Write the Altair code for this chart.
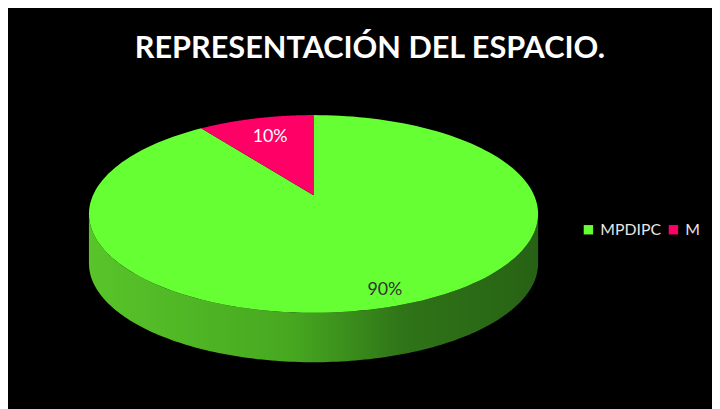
import altair as alt
import numpy as np
import pandas as pd

# ---- data ----
categories = ["MPDIPC", "M"]
values = [90, 10]
label_texts = ["90%", "10%"]
title_text = "REPRESENTACIÓN DEL ESPACIO."

# ---- style ----
colors = ["#66ff33", "#ff0066"]
label_colors = ["#333333", "#ffffff"]
label_radius = [0.88, 0.72]

# perspective view of the disc (page pixels)
CX, CY, G, E, R0, DEPTH = 315.0, 194.0, -59.5, 0.19, 223.0, 50.0
N = 160


def project(u, v):
    d = 1.0 + E * v
    return CX + R0 * u / d, (CY + G * v) / d


total = float(sum(values))
bounds = np.concatenate([[0.0], np.cumsum(values) / total]) * 2 * np.pi

# top face polygons
rows = []
for i, c in enumerate(categories):
    a0, a1 = bounds[i], bounds[i + 1]
    x0, y0 = project(0.0, 0.0)
    rows.append(dict(category=c, step=0, x=x0, y=y0))
    for k in range(N + 1):
        phi = a0 + (a1 - a0) * k / N
        x, y = project(np.sin(phi), np.cos(phi))
        rows.append(dict(category=c, step=k + 1, x=x, y=y))
    rows.append(dict(category=c, step=N + 2, x=x0, y=y0))
top_df = pd.DataFrame(rows)

# visible front wall
f_lo = np.arccos(-E)
f_hi = 2 * np.pi - f_lo
wrows = []
for i, c in enumerate(categories):
    lo, hi = max(bounds[i], f_lo), min(bounds[i + 1], f_hi)
    if lo >= hi:
        continue
    for k in range(N + 1):
        phi = lo + (hi - lo) * k / N
        x, y = project(np.sin(phi), np.cos(phi))
        wrows.append(dict(category=c, x=x, y=y, y2=y + DEPTH))
wall_df = pd.DataFrame(wrows)

# labels
lrows = []
for i, c in enumerate(categories):
    mid = (bounds[i] + bounds[i + 1]) / 2
    r = label_radius[i]
    x, y = project(r * np.sin(mid), r * np.cos(mid))
    lrows.append(dict(category=c, text=label_texts[i], x=x, y=y, col=label_colors[i]))
lab_df = pd.DataFrame(lrows)

title_df = pd.DataFrame([dict(text=title_text, x=372, y=46)])

xs = alt.Scale(domain=[8, 718], nice=False, zero=False)
ys = alt.Scale(domain=[8, 408], nice=False, zero=False, reverse=True)

gradient = alt.Gradient(
    gradient="linear", x1=0, x2=1, y1=0, y2=0,
    stops=[
        alt.GradientStop(offset=0.0, color="#58c42a"),
        alt.GradientStop(offset=0.45, color="#47a820"),
        alt.GradientStop(offset=0.7, color="#2f7418"),
        alt.GradientStop(offset=1.0, color="#276214"),
    ],
)

wall = alt.Chart(wall_df).mark_area(color=gradient).encode(
    x=alt.X("x:Q", scale=xs, axis=None),
    y=alt.Y("y:Q", scale=ys, axis=None),
    y2="y2:Q",
    detail="category:N",
)

top = alt.Chart(top_df).mark_line(filled=True, strokeWidth=0).encode(
    x=alt.X("x:Q", scale=xs, axis=None),
    y=alt.Y("y:Q", scale=ys, axis=None),
    color=alt.Color(
        "category:N",
        scale=alt.Scale(domain=categories, range=colors),
        legend=alt.Legend(
            orient="none", legendX=577, legendY=213, direction="horizontal",
            title=None, symbolType="square", symbolSize=90, symbolStrokeWidth=0,
            labelFontSize=16, labelFont="Lato", labelColor="#e6e6e6",
            columnPadding=4, labelOffset=4,
        ),
    ),
    order="step:Q",
)

labels = alt.Chart(lab_df).mark_text(
    font="Lato", fontSize=18, align="center", baseline="middle"
).encode(
    x=alt.X("x:Q", scale=xs, axis=None),
    y=alt.Y("y:Q", scale=ys, axis=None),
    text="text:N",
    color=alt.Color("col:N", scale=None),
)

title = alt.Chart(title_df).mark_text(
    font="Lato", fontSize=31, fontWeight="bold", color="white",
    align="center", baseline="middle"
).encode(
    x=alt.X("x:Q", scale=xs, axis=None),
    y=alt.Y("y:Q", scale=ys, axis=None),
    text="text:N",
)

chart = alt.layer(wall, top, labels, title).properties(
    width=710, height=400, background="black",
    padding={"left": 2, "top": 1, "right": 0, "bottom": 0},
    autosize=alt.AutoSizeParams(type="none"),
).configure_view(stroke=None)

chart.save("out.html", embed_options={"renderer": "svg", "actions": False})
